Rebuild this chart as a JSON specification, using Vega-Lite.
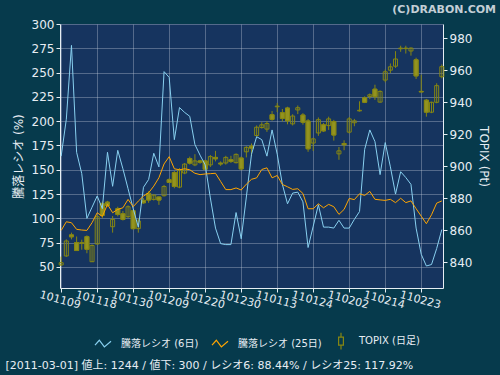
{
  "$schema": "https://vega.github.io/schema/vega-lite/v6.json",
  "width": 383,
  "height": 264,
  "autosize": {"type": "none"},
  "padding": {"left": 60, "top": 24, "right": 57, "bottom": 87},
  "background": "#063a4c",
  "title": {"text": "(C)DRABON.COM", "anchor": "end", "frame": "group", "dx": 53, "offset": 3, "font": "DejaVu Sans", "fontSize": 11, "fontWeight": "bold", "color": "#c3ced6"},
  "config": {
    "view": {"fill": "#16345f", "stroke": null},
    "axis": {"domainColor": "#e6edf3", "tickColor": "#e6edf3", "labelColor": "#e6edf3", "titleColor": "#e6edf3", "labelFont": "DejaVu Sans", "titleFont": "DejaVu Sans, Noto Sans CJK JP", "labelFontSize": 12, "titleFontWeight": "normal", "gridColor": "#c8d2e0", "gridOpacity": 0.35, "tickSize": 4, "labelOverlap": false}
  },
  "data": {"values": [
    {"d":"101109","o":838.2,"h":843.4,"l":837.5,"c":839.6,"r6":164,"r25":87.6},
    {"d":"101110","o":843.8,"h":854.2,"l":843.2,"c":853.2,"r6":202,"r25":96.5},
    {"d":"101111","o":857.0,"h":858.4,"l":854.2,"c":855.8,"r6":278,"r25":95.5},
    {"d":"101112","o":852.2,"h":856.0,"l":847.0,"c":847.2,"r6":168,"r25":88.7},
    {"d":"101115","o":851.7,"h":854.0,"l":847.7,"c":852.2,"r6":146,"r25":88.0},
    {"d":"101116","o":855.9,"h":856.7,"l":845.5,"c":848.0,"r6":100,"r25":87.6},
    {"d":"101117","o":840.2,"h":851.0,"l":840.0,"c":850.4,"r6":111.5,"r25":95.5},
    {"d":"101118","o":851.3,"h":869.5,"l":851.0,"c":868.4,"r6":123,"r25":105.8},
    {"d":"101119","o":876.5,"h":877.8,"l":867.6,"c":869.2,"r6":110,"r25":102},
    {"d":"101122","o":877.5,"h":878.3,"l":874.5,"c":875.4,"r6":168,"r25":114.4},
    {"d":"101124","o":862.1,"h":868.8,"l":858.4,"c":866.7,"r6":133,"r25":105.8},
    {"d":"101125","o":873.4,"h":874.6,"l":868.6,"c":869.8,"r6":170,"r25":109.2},
    {"d":"101126","o":870.2,"h":872.0,"l":866.0,"c":866.7,"r6":151,"r25":110.9},
    {"d":"101129","o":868.4,"h":875.5,"l":867.5,"c":874.6,"r6":130.5,"r25":119.5},
    {"d":"101130","o":872.1,"h":872.8,"l":860.3,"c":860.9,"r6":110,"r25":112},
    {"d":"101201","o":860.9,"h":867.3,"l":858.4,"c":865.7,"r6":91,"r25":117.8},
    {"d":"101202","o":878.6,"h":880.0,"l":876.5,"c":877.1,"r6":132,"r25":122.9},
    {"d":"101203","o":883.0,"h":884.4,"l":877.1,"c":878.8,"r6":140,"r25":126.3},
    {"d":"101206","o":879.2,"h":882.5,"l":878.5,"c":881.9,"r6":167,"r25":133.2},
    {"d":"101207","o":880.7,"h":881.0,"l":875.8,"c":878.8,"r6":153,"r25":141.8},
    {"d":"101208","o":881.5,"h":888.3,"l":881.0,"c":887.3,"r6":251,"r25":156},
    {"d":"101209","o":891.5,"h":892.5,"l":889.4,"c":889.8,"r6":245,"r25":163.5},
    {"d":"101210","o":896.0,"h":897.0,"l":886.2,"c":887.3,"r6":181,"r25":151},
    {"d":"101213","o":886.9,"h":898.8,"l":886.2,"c":897.7,"r6":214,"r25":150},
    {"d":"101214","o":895.7,"h":902.0,"l":895.0,"c":901.3,"r6":209,"r25":151},
    {"d":"101215","o":904.8,"h":906.0,"l":901.0,"c":901.9,"r6":205,"r25":150},
    {"d":"101216","o":900.8,"h":907.5,"l":900.0,"c":903.3,"r6":176,"r25":146.4},
    {"d":"101217","o":903.3,"h":904.0,"l":901.5,"c":902.5,"r6":165,"r25":145},
    {"d":"101220","o":903.3,"h":904.0,"l":897.5,"c":898.1,"r6":155,"r25":145.7},
    {"d":"101221","o":900.8,"h":907.0,"l":899.5,"c":906.0,"r6":121,"r25":146},
    {"d":"101222","o":905.5,"h":909.6,"l":903.0,"c":904.6,"r6":90,"r25":146.4},
    {"d":"101224","o":901.9,"h":903.0,"l":900.2,"c":901.4,"r6":74,"r25":138},
    {"d":"101227","o":902.0,"h":906.5,"l":901.0,"c":905.5,"r6":73,"r25":129.6},
    {"d":"101228","o":904.0,"h":906.5,"l":902.0,"c":903.0,"r6":73,"r25":129.6},
    {"d":"101229","o":902.2,"h":908.0,"l":901.7,"c":907.4,"r6":106,"r25":131.3},
    {"d":"101230","o":905.1,"h":906.0,"l":897.5,"c":898.3,"r6":79,"r25":129.2},
    {"d":"110104","o":909.0,"h":912.5,"l":905.5,"c":911.8,"r6":122,"r25":135.2},
    {"d":"110105","o":912.5,"h":914.2,"l":906.3,"c":911.3,"r6":166,"r25":140.2},
    {"d":"110106","o":919.2,"h":925.5,"l":918.5,"c":924.4,"r6":184,"r25":141.7},
    {"d":"110107","o":924.2,"h":927.5,"l":923.5,"c":925.9,"r6":181,"r25":150.3},
    {"d":"110111","o":923.2,"h":928.3,"l":921.5,"c":926.7,"r6":164,"r25":152},
    {"d":"110112","o":932.2,"h":934.5,"l":928.5,"c":929.3,"r6":191,"r25":141.7},
    {"d":"110113","o":937.2,"h":939.6,"l":933.8,"c":937.6,"r6":166,"r25":144.1},
    {"d":"110114","o":933.5,"h":935.8,"l":928.0,"c":929.9,"r6":135,"r25":134.9},
    {"d":"110117","o":936.4,"h":937.2,"l":926.2,"c":928.4,"r6":115,"r25":132.5},
    {"d":"110118","o":926.5,"h":932.5,"l":925.5,"c":931.4,"r6":126,"r25":129.8},
    {"d":"110119","o":935.2,"h":938.0,"l":932.6,"c":936.6,"r6":127,"r25":130.5},
    {"d":"110120","o":932.0,"h":933.2,"l":926.0,"c":927.5,"r6":117,"r25":125.6},
    {"d":"110121","o":928.3,"h":929.5,"l":909.0,"c":910.9,"r6":70,"r25":109.9},
    {"d":"110124","o":914.5,"h":917.8,"l":909.5,"c":917.1,"r6":92,"r25":109.9},
    {"d":"110125","o":920.8,"h":930.5,"l":919.0,"c":929.1,"r6":114,"r25":115},
    {"d":"110126","o":925.9,"h":927.0,"l":921.5,"c":922.1,"r6":91,"r25":110.9},
    {"d":"110127","o":925.4,"h":931.0,"l":922.7,"c":929.6,"r6":91,"r25":114.4},
    {"d":"110128","o":927.9,"h":929.0,"l":916.0,"c":919.5,"r6":90,"r25":112},
    {"d":"110131","o":907.7,"h":912.0,"l":904.0,"c":909.6,"r6":98,"r25":104.1},
    {"d":"110201","o":914.2,"h":916.2,"l":910.0,"c":913.4,"r6":90,"r25":109.2},
    {"d":"110202","o":921.3,"h":930.8,"l":920.5,"c":929.6,"r6":90,"r25":120.5},
    {"d":"110203","o":927.2,"h":929.6,"l":925.0,"c":928.4,"r6":99,"r25":119.3},
    {"d":"110204","o":934.6,"h":940.6,"l":934.2,"c":935.0,"r6":107,"r25":125.3},
    {"d":"110207","o":942.8,"h":943.7,"l":939.5,"c":940.0,"r6":171,"r25":123.6},
    {"d":"110208","o":943.6,"h":945.5,"l":942.0,"c":944.7,"r6":191,"r25":127.8},
    {"d":"110209","o":948.2,"h":951.0,"l":941.5,"c":943.5,"r6":179,"r25":119.6},
    {"d":"110210","o":940.1,"h":947.5,"l":939.8,"c":946.8,"r6":145,"r25":119},
    {"d":"110214","o":953.9,"h":960.5,"l":952.5,"c":959.1,"r6":178,"r25":118.5},
    {"d":"110215","o":960.1,"h":964.3,"l":958.3,"c":962.2,"r6":153,"r25":119.6},
    {"d":"110216","o":962.6,"h":972.0,"l":961.5,"c":967.1,"r6":125,"r25":116.2},
    {"d":"110217","o":973.5,"h":975.4,"l":971.6,"c":973.9,"r6":148,"r25":120.7},
    {"d":"110218","o":973.6,"h":975.4,"l":970.5,"c":973.9,"r6":142,"r25":116.2},
    {"d":"110221","o":972.1,"h":974.4,"l":969.2,"c":973.9,"r6":135,"r25":118},
    {"d":"110222","o":966.6,"h":967.9,"l":954.6,"c":956.5,"r6":90,"r25":110},
    {"d":"110223","o":946.8,"h":957.3,"l":946.3,"c":946.5,"r6":63,"r25":102.2},
    {"d":"110224","o":941.3,"h":942.1,"l":931.0,"c":933.8,"r6":51,"r25":94.5},
    {"d":"110225","o":933.8,"h":940.4,"l":933.2,"c":940.0,"r6":52.5,"r25":103.7},
    {"d":"110228","o":940.0,"h":951.9,"l":939.4,"c":950.4,"r6":69,"r25":115.7},
    {"d":"110301","o":956.0,"h":963.7,"l":955.0,"c":962.3,"r6":88.44,"r25":117.92}
  ]},
  "layer": [
    {
      "layer": [
        {
          "mark": {"type": "rule", "color": "#868612", "strokeWidth": 1},
          "encoding": {
            "x": {"field": "d", "type": "ordinal", "sort": "ascending", "scale": {"type": "point", "padding": 0.23},
              "axis": {"values": ["101109","101118","101130","101209","101220","101230","110113","110124","110202","110214","110223"], "grid": true, "labelAngle": 15, "labelAlign": "center", "labelBaseline": "top", "labelFontSize": 11, "labelPadding": 2, "tickSize": 4,
                "title": "[2011-03-01]  値上: 1244 / 値下: 300 / レシオ6: 88.44% / レシオ25: 117.92%", "titleAnchor": "start", "titleAlign": "left", "titleX": -55, "titleY": 77, "titleBaseline": "middle", "titleFontSize": 11}},
            "y": {"field": "l", "type": "quantitative", "scale": {"domain": [823.75, 989], "nice": false, "zero": false},
              "axis": {"orient": "right", "values": [840, 860, 880, 900, 920, 940, 960, 980], "tickCount": 30, "grid": false, "labelOverlap": false, "title": "TOPIX (Pt)", "titleFontSize": 12, "titlePadding": 5, "labelPadding": 2}},
            "y2": {"field": "h"}
          }
        },
        {
          "mark": {"type": "bar", "width": 4, "fill": "transparent", "strokeWidth": 1},
          "encoding": {
            "x": {"field": "d", "type": "ordinal", "sort": "ascending"},
            "y": {"field": "o", "type": "quantitative", "axis": {"orient": "right", "values": [840, 860, 880, 900, 920, 940, 960, 980], "tickCount": 30, "grid": false, "labelOverlap": false, "title": "TOPIX (Pt)", "titleFontSize": 12, "titlePadding": 5, "labelPadding": 2}},
            "y2": {"field": "c"},
            "stroke": {"datum": "TOPIX",
              "legend": {"title": null, "orient": "none", "legendX": 34, "legendY": 308, "direction": "horizontal", "columnPadding": 10, "labelOffset": 9, "symbolSize": 256,
                "symbolType": {"expr": "datum.value === 'TOPIX' ? 'M0,-1.05V-0.5M-0.3,-0.5H0.3V0.5H-0.3ZM0,0.5V1.05' : 'M-1,0.2L-0.46,-0.42L0.17,0.42L1,-0.29'"},
                "labelExpr": "datum.value === 'r6' ? '騰落レシオ (6日)' : datum.value === 'r25' ? '騰落レシオ (25日)' : 'TOPIX (日足)'",
                "labelFont": "DejaVu Sans, Noto Sans CJK JP", "labelFontSize": 10, "labelColor": "#e6edf3", "symbolFillColor": "transparent", "symbolStrokeWidth": 1.2}}
          }
        },
        {
          "transform": [{"filter": "datum.c < datum.o"}],
          "mark": {"type": "bar", "width": 4, "fill": "#939320", "stroke": "#868612", "strokeWidth": 1},
          "encoding": {
            "x": {"field": "d", "type": "ordinal", "sort": "ascending"},
            "y": {"field": "o", "type": "quantitative", "axis": {"orient": "right", "values": [840, 860, 880, 900, 920, 940, 960, 980], "tickCount": 30, "grid": false, "labelOverlap": false, "title": "TOPIX (Pt)", "titleFontSize": 12, "titlePadding": 5, "labelPadding": 2}},
            "y2": {"field": "c"}
          }
        }
      ]
    },
    {
      "transform": [{"fold": ["r6", "r25"], "as": ["series", "value"]}],
      "mark": {"type": "line", "strokeWidth": 1},
      "encoding": {
        "x": {"field": "d", "type": "ordinal", "sort": "ascending"},
        "y": {"field": "value", "type": "quantitative", "scale": {"domain": [28.35, 300], "nice": false, "zero": false},
          "axis": {"orient": "left", "values": [50, 75, 100, 125, 150, 175, 200, 225, 250, 275, 300], "tickCount": 30, "grid": true, "labelOverlap": false, "title": "騰落レシオ (%)", "titleFontSize": 12, "titlePadding": 6, "labelPadding": 2}},
        "stroke": {"field": "series", "type": "nominal",
          "scale": {"domain": ["r6", "r25", "TOPIX"], "range": ["#88d0f0", "#ffa500", "#868612"]},
          "legend": {"title": null, "orient": "none", "legendX": 34, "legendY": 308, "direction": "horizontal", "columnPadding": 10, "labelOffset": 9, "symbolSize": 256,
            "symbolType": {"expr": "datum.value === 'TOPIX' ? 'M0,-1.05V-0.5M-0.3,-0.5H0.3V0.5H-0.3ZM0,0.5V1.05' : 'M-1,0.2L-0.46,-0.42L0.17,0.42L1,-0.29'"},
            "labelExpr": "datum.value === 'r6' ? '騰落レシオ (6日)' : datum.value === 'r25' ? '騰落レシオ (25日)' : 'TOPIX (日足)'",
            "labelFont": "DejaVu Sans, Noto Sans CJK JP", "labelFontSize": 10, "labelColor": "#e6edf3", "symbolFillColor": "transparent", "symbolStrokeWidth": 1.2}}
      }
    }
  ],
  "resolve": {"scale": {"y": "independent"}}
}
